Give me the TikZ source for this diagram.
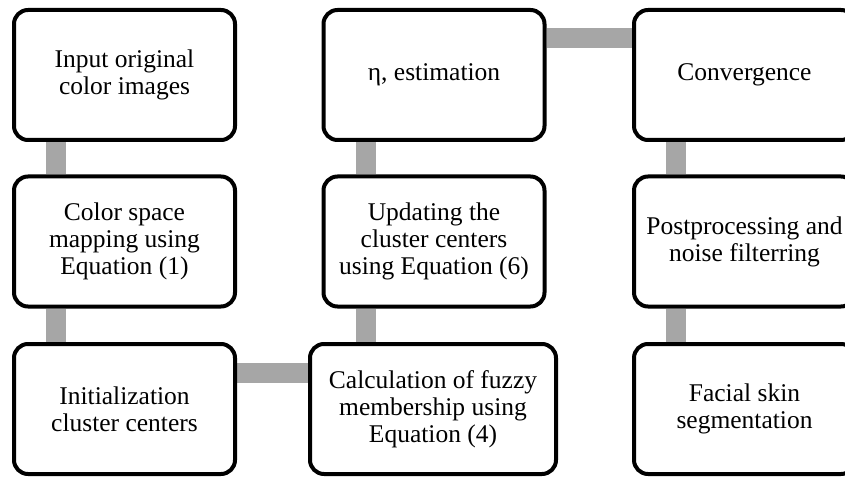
\documentclass[tikz,border=0pt]{standalone}
\usepackage{fontspec}
\setmainfont{Liberation Serif}
\usepackage{tikz}
\usepackage{xcolor}
\definecolor{LinkGray}{rgb}{0.65,0.65,0.65}
\usetikzlibrary{backgrounds}

\begin{document}
\begin{tikzpicture}[x=1pt, y=-1pt,
  stepbox/.style={draw=black, line width=4pt, rounded corners=14pt, fill=white, minimum width=221pt, minimum height=130pt, inner sep=2pt, align=center, font=\fontsize{25.5}{27}\selectfont},
  link/.style={draw=LinkGray, line width=20pt}]

\useasboundingbox (0, 0) rectangle (845, 478);

\node[stepbox] (input) at (124.5, 75) {Input original\\color images};
\node[stepbox] (mapping) at (124.5, 241.5) {Color space\\mapping using\\Equation (1)};
\node[stepbox] (init) at (124.5, 409) {Initialization\\cluster centers};
\node[stepbox, minimum width=246pt] (fuzzy) at (433, 409) {Calculation of fuzzy\\membership using\\Equation (4)};
\node[stepbox] (update) at (434, 241.5) {Updating the\\cluster centers\\using Equation (6)};
\node[stepbox] (eta) at (434, 75) {η, estimation};
\node[stepbox] (conv) at (744.5, 75) {Convergence};
\node[stepbox] (post) at (744.5, 241.5) {Postprocessing and\\noise filterring};
\node[stepbox] (facial) at (744.5, 409) {Facial skin\\segmentation};

\begin{scope}[on background layer]
\draw[link] ([xshift=44pt]input.south west) -- ([xshift=44pt]mapping.north west);
\draw[link] ([xshift=44pt]mapping.south west) -- ([xshift=44pt]init.north west);
\draw[link] ([yshift=-31pt]init.north east) -- ([yshift=-31pt]fuzzy.north west);
\draw[link] ([xshift=44pt]update.south west |- fuzzy.north) -- ([xshift=44pt]update.south west);
\draw[link] ([xshift=44pt]update.north west) -- ([xshift=44pt]eta.south west);
\draw[link] ([yshift=-30pt]eta.north east) -- ([yshift=-30pt]conv.north west);
\draw[link] ([xshift=44pt]conv.south west) -- ([xshift=44pt]post.north west);
\draw[link] ([xshift=44pt]post.south west) -- ([xshift=44pt]facial.north west);
\end{scope}
\end{tikzpicture}
\end{document}
